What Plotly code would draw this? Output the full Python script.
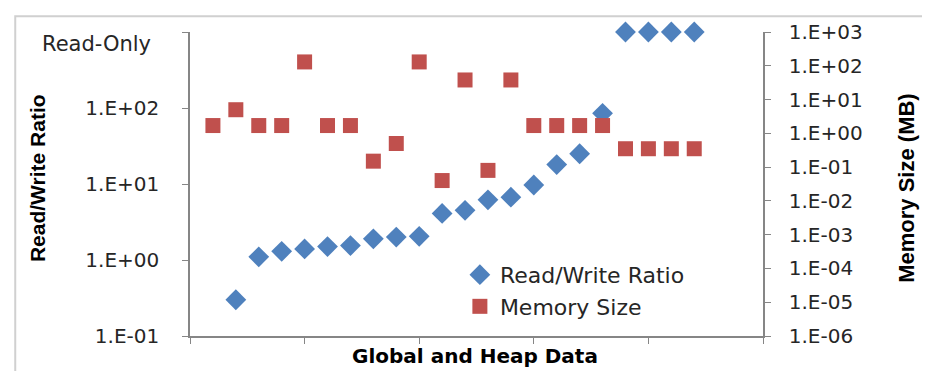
import plotly.graph_objects as go

# ---- data ----
x_idx = list(range(1, 23))
rw_ratio = [None, 0.3, 1.1, 1.3, 1.4, 1.5, 1.55, 1.9, 2.0, 2.05, 4.1, 4.5,
            6.2, 6.7, 9.7, 18, 25, 85, 1000, 1000, 1000, 1000]
mem_size = [1.7, 5, 1.7, 1.7, 130, 1.7, 1.7, 0.15, 0.5, 130, 0.04, 38,
            0.08, 38, 1.7, 1.7, 1.7, 1.7, 0.35, 0.35, 0.35, 0.35]
left_tickvals = [0.1, 1, 10, 100, 1000]
left_ticktext = ["1.E-01", "1.E+00", "1.E+01", "1.E+02", ""]
right_tickvals = [1e-6, 1e-5, 1e-4, 1e-3, 1e-2, 1e-1, 1, 10, 100, 1000]
right_ticktext = ["1.E-06", "1.E-05", "1.E-04", "1.E-03", "1.E-02",
                  "1.E-01", "1.E+00", "1.E+01", "1.E+02", "1.E+03"]
x_tickvals = [0, 5, 10, 15, 20, 25]

BLUE = "#4F81BD"
RED = "#C0504D"
AXIS = "#868686"
TXT = "#262626"

fig = go.Figure()
fig.add_trace(go.Scatter(
    x=x_idx, y=rw_ratio, mode="markers", name="Read/Write Ratio",
    marker=dict(symbol="diamond", size=16, color=BLUE),
    cliponaxis=False, yaxis="y"))
fig.add_trace(go.Scatter(
    x=x_idx, y=mem_size, mode="markers", name="Memory Size",
    marker=dict(symbol="square", size=15, color=RED),
    cliponaxis=False, yaxis="y2"))

# page body adds an 8px offset, so the figure is sized/margined to compensate
fig.update_layout(
    width=922, height=363,
    margin=dict(l=182, r=167, t=16, b=35),
    paper_bgcolor="white", plot_bgcolor="white",
    showlegend=True,
    font=dict(family="DejaVu Sans", size=20, color=TXT),
    xaxis=dict(range=[0, 25], tickvals=x_tickvals, ticktext=[""] * 6,
               showgrid=False, zeroline=False, showline=True,
               linecolor=AXIS, linewidth=1.5, ticks="outside",
               ticklen=6, tickcolor=AXIS),
    yaxis=dict(type="log", range=[-1, 3], tickvals=left_tickvals,
               ticktext=left_ticktext, showgrid=False, zeroline=False,
               showline=True, linecolor=AXIS, linewidth=1.5,
               ticks="outside", ticklen=6, tickcolor=AXIS,
               ticklabelstandoff=19,
               tickfont=dict(family="DejaVu Sans", size=20, color=TXT)),
    yaxis2=dict(type="log", range=[-6, 3], overlaying="y", side="right",
                tickvals=right_tickvals, ticktext=right_ticktext,
                showgrid=False, zeroline=False, showline=True,
                linecolor=AXIS, linewidth=1.5, ticks="outside",
                ticklen=6, tickcolor=AXIS, ticklabelstandoff=14,
                tickfont=dict(family="DejaVu Sans", size=20, color=TXT)),
    legend=dict(x=0.471, y=0.27, xanchor="left", yanchor="top",
                bgcolor="rgba(0,0,0,0)",
                font=dict(family="DejaVu Sans", size=22, color=TXT),
                itemsizing="trace", tracegroupgap=0),
    annotations=[
        dict(text="Read-Only", x=-0.262, y=0.96, xref="paper",
             yref="paper", xanchor="left", yanchor="middle",
             showarrow=False,
             font=dict(family="DejaVu Sans", size=21, color=TXT)),
        dict(text="<b>Read/Write Ratio</b>", x=-0.265, y=0.52,
             xref="paper", yref="paper", textangle=-90,
             xanchor="center", yanchor="middle", showarrow=False,
             font=dict(family="Liberation Sans", size=21, color="black")),
        dict(text="<b>Memory Size (MB)</b>", x=1.251, y=0.487,
             xref="paper", yref="paper", textangle=-90,
             xanchor="center", yanchor="middle", showarrow=False,
             font=dict(family="Liberation Sans", size=22, color="black")),
        dict(text="<b>Global and Heap Data</b>", x=0.497, y=-0.065,
             xref="paper", yref="paper", xanchor="center",
             yanchor="middle", showarrow=False,
             font=dict(family="DejaVu Sans", size=20, color="black")),
    ],
    shapes=[
        dict(type="rect", xref="paper", yref="paper",
             x0=-0.305, x1=1.35, y0=-0.2, y1=1.052,
             line=dict(color="#D0D0D0", width=2), layer="below"),
    ],
)

fig.write_html("out.html")
